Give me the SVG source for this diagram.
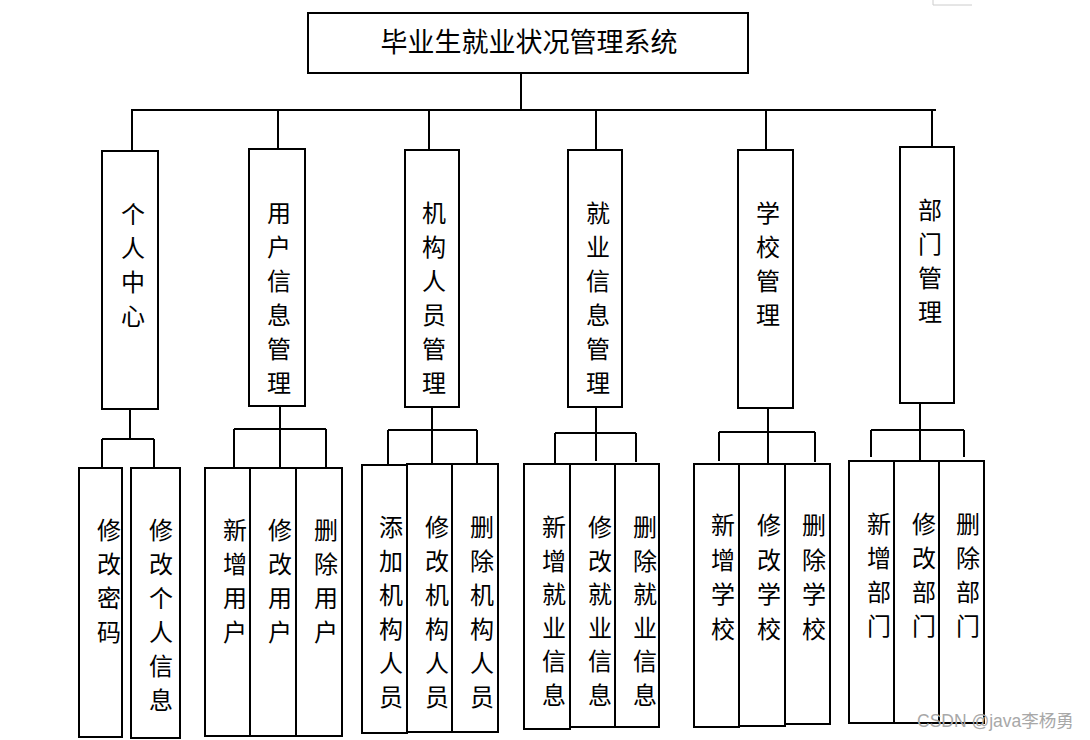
<svg xmlns="http://www.w3.org/2000/svg" width="1090" height="740" viewBox="0 0 1090 740">
<style>
.box{fill:#fff;stroke:#000;stroke-width:2}
.ln{fill:none;stroke:#000;stroke-width:2}
.t{font-family:"Noto Sans CJK SC","Liberation Serif",serif;font-size:24px;fill:#000;text-anchor:middle;dominant-baseline:central}
.title{font-family:"Noto Sans CJK SC","Liberation Serif",serif;font-size:27px;fill:#000;text-anchor:middle;dominant-baseline:central}
.wm{font-family:"Liberation Sans","Noto Sans CJK SC",sans-serif;font-size:17.5px;fill:#a8a8a8}
</style>
<rect width="1090" height="740" fill="#fff"/>
<path d="M933 0 V5 H972" fill="none" stroke="#ccc" stroke-width="1"/>
<g id="connectors">
<path class="ln" d="M521 73 V110 M131 110 H936 M132 110 V151 M278 110 V149 M429 110 V150 M596 110 V150 M766 110 V150 M932 110 V147"/>
<path class="ln" d="M130 409 V439 M102 439 H154 M102 439 V468 M154 439 V468"/>
<path class="ln" d="M280 406 V468 M234 429 H326 M234 429 V468 M326 429 V468"/>
<path class="ln" d="M432 407 V464 M388 430 H477 M388 430 V464 M477 430 V464"/>
<path class="ln" d="M596 407 V461 M555 433 H636 M555 433 V464 M636 433 V462"/>
<path class="ln" d="M768 408 V464 M719 432 H815 M719 432 V461 M815 432 V462"/>
<path class="ln" d="M920 403 V461 M871 430 H964 M871 430 V457 M964 430 V457"/>
</g>
<g id="root">
<rect class="box" x="308" y="13" width="440" height="60"/>
<text class="title" x="529" y="40">毕业生就业状况管理系统</text>
</g>
<g id="n-geren">
<rect class="box" x="102" y="151" width="56" height="258"/>
<text class="t"><tspan x="133" y="212">个</tspan><tspan x="133" dy="34">人</tspan><tspan x="133" dy="34">中</tspan><tspan x="133" dy="34">心</tspan></text>
</g>
<g id="n-yonghu">
<rect class="box" x="249" y="149" width="56" height="257"/>
<text class="t"><tspan x="279" y="211">用</tspan><tspan x="279" dy="34">户</tspan><tspan x="279" dy="34">信</tspan><tspan x="279" dy="34">息</tspan><tspan x="279" dy="34">管</tspan><tspan x="279" dy="34">理</tspan></text>
</g>
<g id="n-jigou">
<rect class="box" x="405" y="150" width="54" height="257"/>
<text class="t"><tspan x="434" y="211">机</tspan><tspan x="434" dy="34">构</tspan><tspan x="434" dy="34">人</tspan><tspan x="434" dy="34">员</tspan><tspan x="434" dy="34">管</tspan><tspan x="434" dy="34">理</tspan></text>
</g>
<g id="n-jiuye">
<rect class="box" x="568" y="150" width="54" height="257"/>
<text class="t"><tspan x="598" y="211">就</tspan><tspan x="598" dy="34">业</tspan><tspan x="598" dy="34">信</tspan><tspan x="598" dy="34">息</tspan><tspan x="598" dy="34">管</tspan><tspan x="598" dy="34">理</tspan></text>
</g>
<g id="n-xuexiao">
<rect class="box" x="738" y="150" width="55" height="258"/>
<text class="t"><tspan x="768" y="211">学</tspan><tspan x="768" dy="34">校</tspan><tspan x="768" dy="34">管</tspan><tspan x="768" dy="34">理</tspan></text>
</g>
<g id="n-bumen">
<rect class="box" x="900" y="147" width="54" height="256"/>
<text class="t"><tspan x="930" y="208">部</tspan><tspan x="930" dy="34">门</tspan><tspan x="930" dy="34">管</tspan><tspan x="930" dy="34">理</tspan></text>
</g>
<g id="n-mima">
<rect class="box" x="79" y="468" width="43" height="269"/>
<text class="t"><tspan x="109" y="528">修</tspan><tspan x="109" dy="34">改</tspan><tspan x="109" dy="34">密</tspan><tspan x="109" dy="34">码</tspan></text>
</g>
<g id="n-gerenxinxi">
<rect class="box" x="131" y="468" width="49" height="270"/>
<text class="t"><tspan x="161" y="528">修</tspan><tspan x="161" dy="34">改</tspan><tspan x="161" dy="34">个</tspan><tspan x="161" dy="34">人</tspan><tspan x="161" dy="34">信</tspan><tspan x="161" dy="34">息</tspan></text>
</g>
<g id="n-xinzengyonghu">
<rect class="box" x="205" y="468" width="45" height="268"/>
<text class="t"><tspan x="235" y="528">新</tspan><tspan x="235" dy="34">增</tspan><tspan x="235" dy="34">用</tspan><tspan x="235" dy="34">户</tspan></text>
</g>
<g id="n-xiugaiyonghu">
<rect class="box" x="250" y="468" width="46" height="268"/>
<text class="t"><tspan x="280" y="528">修</tspan><tspan x="280" dy="34">改</tspan><tspan x="280" dy="34">用</tspan><tspan x="280" dy="34">户</tspan></text>
</g>
<g id="n-shanchuyonghu">
<rect class="box" x="296" y="468" width="46" height="268"/>
<text class="t"><tspan x="326" y="528">删</tspan><tspan x="326" dy="34">除</tspan><tspan x="326" dy="34">用</tspan><tspan x="326" dy="34">户</tspan></text>
</g>
<g id="n-tianjiajigou">
<rect class="box" x="362" y="465" width="45" height="268"/>
<text class="t"><tspan x="391" y="525">添</tspan><tspan x="391" dy="34">加</tspan><tspan x="391" dy="34">机</tspan><tspan x="391" dy="34">构</tspan><tspan x="391" dy="34">人</tspan><tspan x="391" dy="34">员</tspan></text>
</g>
<g id="n-xiugaijigou">
<rect class="box" x="407" y="464" width="45" height="268"/>
<text class="t"><tspan x="437" y="525">修</tspan><tspan x="437" dy="34">改</tspan><tspan x="437" dy="34">机</tspan><tspan x="437" dy="34">构</tspan><tspan x="437" dy="34">人</tspan><tspan x="437" dy="34">员</tspan></text>
</g>
<g id="n-shanchujigou">
<rect class="box" x="452" y="464" width="46" height="268"/>
<text class="t"><tspan x="482" y="525">删</tspan><tspan x="482" dy="34">除</tspan><tspan x="482" dy="34">机</tspan><tspan x="482" dy="34">构</tspan><tspan x="482" dy="34">人</tspan><tspan x="482" dy="34">员</tspan></text>
</g>
<g id="n-xinzengjiuye">
<rect class="box" x="524" y="464" width="46" height="265"/>
<text class="t"><tspan x="554" y="525">新</tspan><tspan x="554" dy="33.6">增</tspan><tspan x="554" dy="33.6">就</tspan><tspan x="554" dy="33.6">业</tspan><tspan x="554" dy="33.6">信</tspan><tspan x="554" dy="33.6">息</tspan></text>
</g>
<g id="n-xiugaijiuye">
<rect class="box" x="570" y="464" width="45" height="263"/>
<text class="t"><tspan x="600" y="525">修</tspan><tspan x="600" dy="33.6">改</tspan><tspan x="600" dy="33.6">就</tspan><tspan x="600" dy="33.6">业</tspan><tspan x="600" dy="33.6">信</tspan><tspan x="600" dy="33.6">息</tspan></text>
</g>
<g id="n-shanchujiuye">
<rect class="box" x="615" y="464" width="44" height="263"/>
<text class="t"><tspan x="645" y="525">删</tspan><tspan x="645" dy="33.6">除</tspan><tspan x="645" dy="33.6">就</tspan><tspan x="645" dy="33.6">业</tspan><tspan x="645" dy="33.6">信</tspan><tspan x="645" dy="33.6">息</tspan></text>
</g>
<g id="n-xinzengxuexiao">
<rect class="box" x="694" y="464" width="45" height="263"/>
<text class="t"><tspan x="723" y="523">新</tspan><tspan x="723" dy="34.5">增</tspan><tspan x="723" dy="34.5">学</tspan><tspan x="723" dy="34.5">校</tspan></text>
</g>
<g id="n-xiugaixuexiao">
<rect class="box" x="739" y="464" width="46" height="262"/>
<text class="t"><tspan x="769" y="523">修</tspan><tspan x="769" dy="34.5">改</tspan><tspan x="769" dy="34.5">学</tspan><tspan x="769" dy="34.5">校</tspan></text>
</g>
<g id="n-shanchuxuexiao">
<rect class="box" x="785" y="464" width="45" height="260"/>
<text class="t"><tspan x="814" y="523">删</tspan><tspan x="814" dy="34.5">除</tspan><tspan x="814" dy="34.5">学</tspan><tspan x="814" dy="34.5">校</tspan></text>
</g>
<g id="n-xinzengbumen">
<rect class="box" x="849" y="461" width="45" height="262"/>
<text class="t"><tspan x="879" y="522">新</tspan><tspan x="879" dy="34">增</tspan><tspan x="879" dy="34">部</tspan><tspan x="879" dy="34">门</tspan></text>
</g>
<g id="n-xiugaibumen">
<rect class="box" x="894" y="461" width="45" height="262"/>
<text class="t"><tspan x="924" y="522">修</tspan><tspan x="924" dy="34">改</tspan><tspan x="924" dy="34">部</tspan><tspan x="924" dy="34">门</tspan></text>
</g>
<g id="n-shanchubumen">
<rect class="box" x="939" y="461" width="45" height="262"/>
<text class="t"><tspan x="968" y="522">删</tspan><tspan x="968" dy="34">除</tspan><tspan x="968" dy="34">部</tspan><tspan x="968" dy="34">门</tspan></text>
</g>
<text class="wm" x="917" y="727">CSDN @java李杨勇</text>
</svg>
